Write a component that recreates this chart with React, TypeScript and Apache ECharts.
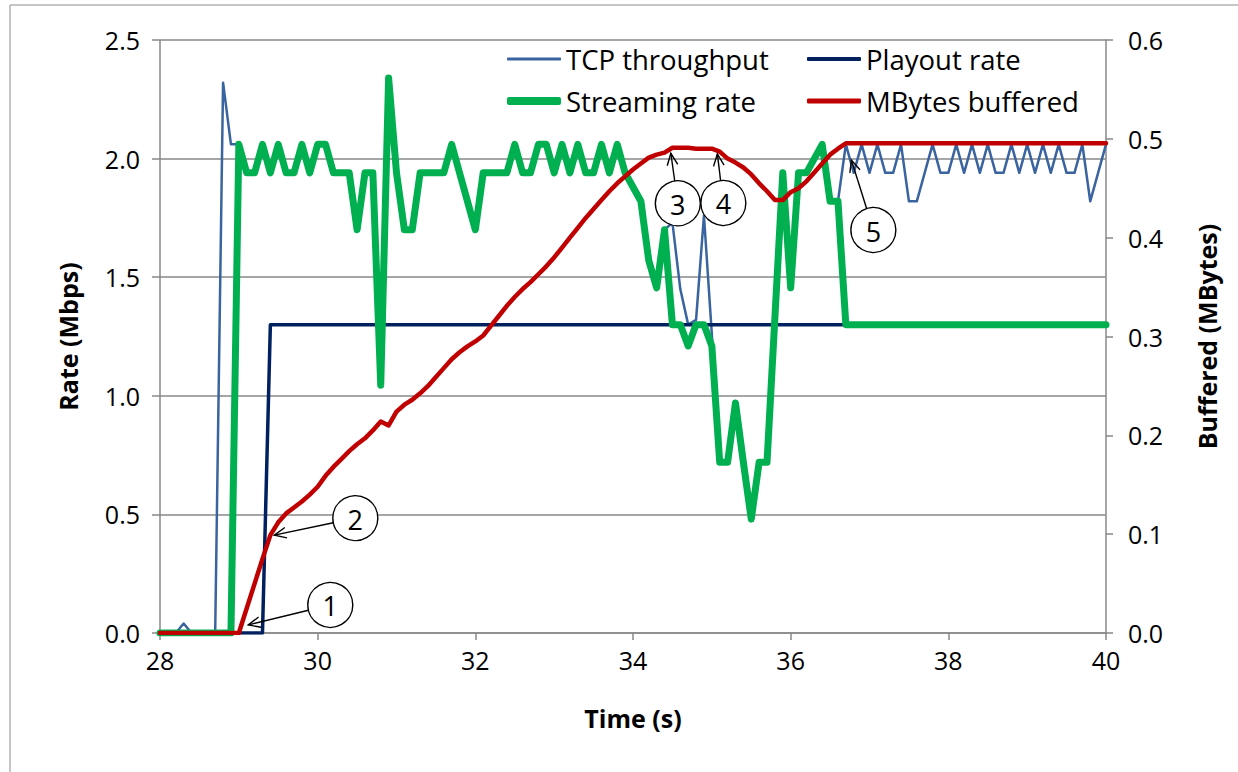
import React, { useEffect, useRef } from "react";
import * as echarts from "echarts";

// ---- data (time in s; rates in Mbps; buffer in MBytes) ----
const xTicks = { min: 28, max: 40, interval: 2 };
const rateAxis = { min: 0, max: 2.5, interval: 0.5 };
const bufferAxis = { min: 0, max: 0.6, interval: 0.1 };

const tcpThroughput: [number, number][] = [
  [28.0, 0], [28.2, 0], [28.3, 0.04], [28.4, 0], [28.7, 0], [28.8, 2.32], [28.9, 2.06],
  [29.0, 2.06], [29.1, 1.94], [29.2, 1.94], [29.3, 2.06], [29.4, 1.94], [29.5, 2.06], [29.6, 1.94], [29.7, 1.94], [29.8, 2.06], [29.9, 1.94],
  [30.0, 2.06], [30.1, 2.06], [30.2, 1.94], [30.3, 1.94], [30.4, 1.94], [30.5, 1.7], [30.6, 1.94], [30.7, 1.94], [30.8, 1.045], [30.9, 2.34],
  [31.0, 1.94], [31.1, 1.7], [31.2, 1.7], [31.3, 1.94], [31.4, 1.94], [31.5, 1.94], [31.6, 1.94], [31.7, 2.06], [31.8, 1.94], [31.9, 1.82],
  [32.0, 1.7], [32.1, 1.94], [32.2, 1.94], [32.3, 1.94], [32.4, 1.94], [32.5, 2.06], [32.6, 1.94], [32.7, 1.94], [32.8, 2.06], [32.9, 2.06],
  [33.0, 1.94], [33.1, 2.06], [33.2, 1.94], [33.3, 2.06], [33.4, 1.94], [33.5, 1.94], [33.6, 2.06], [33.7, 1.94], [33.8, 2.06], [33.9, 1.94],
  [34.0, 1.88], [34.1, 1.82], [34.2, 1.57], [34.3, 1.455], [34.4, 1.7], [34.5, 1.73], [34.6, 1.45], [34.7, 1.3], [34.8, 1.32], [34.9, 1.76],
  [35.0, 1.26], [35.1, 0.72], [35.2, 0.72], [35.3, 0.97], [35.4, 0.72], [35.5, 0.48], [35.6, 0.72], [35.7, 0.72], [35.8, 1.33], [35.9, 1.94],
  [36.0, 1.455], [36.1, 1.94], [36.2, 1.94], [36.3, 2.0], [36.4, 2.06], [36.5, 1.82], [36.6, 1.82], [36.7, 2.06], [36.8, 1.94], [36.9, 2.06],
  [37.0, 1.94], [37.1, 2.06], [37.2, 1.94], [37.3, 1.94], [37.4, 2.06], [37.5, 1.82], [37.6, 1.82], [37.7, 1.94], [37.8, 2.06], [37.9, 1.94],
  [38.0, 1.94], [38.1, 2.06], [38.2, 1.94], [38.3, 2.06], [38.4, 1.94], [38.5, 2.06], [38.6, 1.94], [38.7, 1.94], [38.8, 2.06], [38.9, 1.94],
  [39.0, 2.06], [39.1, 1.94], [39.2, 2.06], [39.3, 1.94], [39.4, 2.06], [39.5, 1.94], [39.6, 1.94], [39.7, 2.06], [39.8, 1.82], [39.9, 1.94],
  [40.0, 2.06],
];

const playoutRate: [number, number][] = [
  [28.0, 0], [29.3, 0], [29.4, 1.3], [40.0, 1.3],
];

const streamingRate: [number, number][] = [
  [28.0, 0], [28.9, 0],
  [29.0, 2.06], [29.1, 1.94], [29.2, 1.94], [29.3, 2.06], [29.4, 1.94], [29.5, 2.06], [29.6, 1.94], [29.7, 1.94], [29.8, 2.06], [29.9, 1.94],
  [30.0, 2.06], [30.1, 2.06], [30.2, 1.94], [30.3, 1.94], [30.4, 1.94], [30.5, 1.7], [30.6, 1.94], [30.7, 1.94], [30.8, 1.045], [30.9, 2.34],
  [31.0, 1.94], [31.1, 1.7], [31.2, 1.7], [31.3, 1.94], [31.4, 1.94], [31.5, 1.94], [31.6, 1.94], [31.7, 2.06], [31.8, 1.94], [31.9, 1.82],
  [32.0, 1.7], [32.1, 1.94], [32.2, 1.94], [32.3, 1.94], [32.4, 1.94], [32.5, 2.06], [32.6, 1.94], [32.7, 1.94], [32.8, 2.06], [32.9, 2.06],
  [33.0, 1.94], [33.1, 2.06], [33.2, 1.94], [33.3, 2.06], [33.4, 1.94], [33.5, 1.94], [33.6, 2.06], [33.7, 1.94], [33.8, 2.06], [33.9, 1.94],
  [34.0, 1.88], [34.1, 1.82], [34.2, 1.57], [34.3, 1.455], [34.4, 1.7], [34.5, 1.3], [34.6, 1.3], [34.7, 1.21], [34.8, 1.3], [34.9, 1.3],
  [35.0, 1.21], [35.1, 0.72], [35.2, 0.72], [35.3, 0.97], [35.4, 0.72], [35.5, 0.48], [35.6, 0.72], [35.7, 0.72], [35.8, 1.33], [35.9, 1.94],
  [36.0, 1.455], [36.1, 1.94], [36.2, 1.94], [36.3, 2.0], [36.4, 2.06], [36.5, 1.82], [36.6, 1.82], [36.7, 1.3], [40.0, 1.3],
];

const mbytesBuffered: [number, number][] = [
  [28.0, 0], [29.0, 0], [29.1, 0.025], [29.2, 0.05], [29.3, 0.075], [29.4, 0.099],
  [29.5, 0.112], [29.6, 0.121], [29.7, 0.127], [29.8, 0.133], [29.9, 0.14],
  [30.0, 0.148], [30.1, 0.159], [30.2, 0.168], [30.3, 0.176], [30.4, 0.184], [30.5, 0.191], [30.6, 0.197], [30.7, 0.205], [30.8, 0.214], [30.9, 0.21],
  [31.0, 0.224], [31.1, 0.231], [31.2, 0.236], [31.3, 0.2425], [31.4, 0.25], [31.5, 0.259], [31.6, 0.268], [31.7, 0.277], [31.8, 0.284], [31.9, 0.29],
  [32.0, 0.295], [32.1, 0.301], [32.2, 0.311], [32.3, 0.321], [32.4, 0.331], [32.5, 0.34], [32.6, 0.348], [32.7, 0.355], [32.8, 0.363], [32.9, 0.371],
  [33.0, 0.38], [33.1, 0.39], [33.2, 0.4], [33.3, 0.41], [33.4, 0.42], [33.5, 0.429], [33.6, 0.438], [33.7, 0.447], [33.8, 0.455], [33.9, 0.462],
  [34.0, 0.469], [34.1, 0.475], [34.2, 0.481], [34.3, 0.484], [34.4, 0.486], [34.5, 0.491], [34.6, 0.491], [34.7, 0.491], [34.8, 0.49], [34.9, 0.49],
  [35.0, 0.49], [35.1, 0.487], [35.2, 0.48], [35.3, 0.476], [35.4, 0.471], [35.5, 0.464], [35.6, 0.455], [35.7, 0.447], [35.8, 0.438], [35.9, 0.438],
  [36.0, 0.446], [36.1, 0.45], [36.2, 0.457], [36.3, 0.466], [36.4, 0.475], [36.5, 0.484], [36.6, 0.49], [36.7, 0.4955], [40.0, 0.4955],
];

// callouts: tip given in data coordinates (axis: 0 = rate, 1 = buffer), circle offset in px
const callouts = [
  { label: "1", tip: [29.12, 0.034], axis: 0, dx: 82, dy: -20 },
  { label: "2", tip: [29.45, 0.099], axis: 1, dx: 81, dy: -17 },
  { label: "3", tip: [34.48, 0.4854], axis: 1, dx: 7, dy: 50 },
  { label: "4", tip: [35.07, 0.4847], axis: 1, dx: 6, dy: 49 },
  { label: "5", tip: [36.77, 1.994], axis: 0, dx: 22, dy: 70 },
];

const FONT = "'Open Sans', 'Liberation Sans', sans-serif";
const GRID_COLOR = "#898989";

export default function App() {
  const ref = useRef<HTMLDivElement>(null);
  useEffect(() => {
    if (!ref.current) return;
    const chart = echarts.init(ref.current, undefined, { renderer: "svg" });
    const legendText = { fontFamily: FONT, fontSize: 27.5, color: "#000" };
    const axisLabel = { fontFamily: FONT, fontSize: 25, color: "#000" };
    const nameStyle = { fontFamily: FONT, fontSize: 25, fontWeight: "bold" as const, color: "#000" };
    const legendBase = { icon: "roundRect", itemWidth: 54, itemGap: 0, textStyle: legendText, selectedMode: false, padding: 0 };
    chart.setOption({
      animation: false,
      backgroundColor: "#fff",
      grid: { left: 160, right: 132, top: 40, bottom: 139, containLabel: false },
      legend: [
        { ...legendBase, data: ["TCP throughput"], left: 507, top: 45, itemHeight: 3 },
        { ...legendBase, data: ["Playout rate"], left: 807, top: 45, itemHeight: 4 },
        { ...legendBase, data: ["Streaming rate"], left: 507, top: 87, itemHeight: 8 },
        { ...legendBase, data: ["MBytes buffered"], left: 807, top: 87, itemHeight: 5 },
      ],
      xAxis: {
        type: "value",
        min: xTicks.min,
        max: xTicks.max,
        interval: xTicks.interval,
        name: "Time (s)",
        nameLocation: "middle",
        nameGap: 72,
        nameTextStyle: nameStyle,
        axisLine: { show: true, onZero: false, lineStyle: { color: GRID_COLOR, width: 1.5 } },
        axisTick: { show: true, inside: false, length: 7, lineStyle: { color: GRID_COLOR, width: 1.5 } },
        axisLabel: { ...axisLabel, margin: 14 },
        splitLine: { show: false },
      },
      yAxis: [
        {
          type: "value",
          min: rateAxis.min,
          max: rateAxis.max,
          interval: rateAxis.interval,
          name: "Rate (Mbps)",
          nameLocation: "middle",
          nameRotate: 90,
          nameGap: 80,
          nameTextStyle: nameStyle,
          axisLine: { show: true, lineStyle: { color: GRID_COLOR, width: 1.5 } },
          axisTick: { show: true, inside: false, length: 8, lineStyle: { color: GRID_COLOR, width: 1.5 } },
          axisLabel: { ...axisLabel, margin: 20, formatter: (v: number) => v.toFixed(1) },
          splitLine: { show: true, lineStyle: { color: GRID_COLOR, width: 1.5 } },
        },
        {
          type: "value",
          position: "right",
          min: bufferAxis.min,
          max: bufferAxis.max,
          interval: bufferAxis.interval,
          name: "Buffered (MBytes)",
          nameLocation: "middle",
          nameRotate: 90,
          nameGap: 88,
          nameTextStyle: nameStyle,
          axisLine: { show: true, lineStyle: { color: GRID_COLOR, width: 1.5 } },
          axisTick: { show: true, inside: false, length: 7, lineStyle: { color: GRID_COLOR, width: 1.5 } },
          axisLabel: { ...axisLabel, margin: 22, formatter: (v: number) => v.toFixed(1) },
          splitLine: { show: false },
        },
      ],
      series: [
        {
          name: "TCP throughput", type: "line", data: tcpThroughput, yAxisIndex: 0,
          symbol: "none", showSymbol: false, silent: true, z: 2,
          color: "#3A64A0", itemStyle: { color: "#3A64A0" },
          lineStyle: { color: "#3A64A0", width: 2.5, join: "round" },
        },
        {
          name: "Playout rate", type: "line", data: playoutRate, yAxisIndex: 0,
          symbol: "none", showSymbol: false, silent: true, z: 3,
          color: "#002060", itemStyle: { color: "#002060" },
          lineStyle: { color: "#002060", width: 3.5, join: "round" },
        },
        {
          name: "Streaming rate", type: "line", data: streamingRate, yAxisIndex: 0,
          symbol: "none", showSymbol: false, silent: true, z: 4,
          color: "#00B050", itemStyle: { color: "#00B050" },
          lineStyle: { color: "#00B050", width: 7, join: "round", cap: "round" },
        },
        {
          name: "MBytes buffered", type: "line", data: mbytesBuffered, yAxisIndex: 1,
          symbol: "none", showSymbol: false, silent: true, z: 5,
          color: "#C00000", itemStyle: { color: "#C00000" },
          lineStyle: { color: "#C00000", width: 4.5, join: "round", cap: "round" },
        },
      ],
    });

    // callout circles and arrows placed from data coordinates
    const graphics: any[] = [
      {
        type: "rect", silent: true, z: 0,
        shape: { x: 10, y: 5, width: 1250, height: 790 },
        style: { fill: "none", stroke: "#8c8c8c", lineWidth: 1 },
      },
    ];
    const r = 22.5;
    callouts.forEach((c) => {
      const tip = chart.convertToPixel({ xAxisIndex: 0, yAxisIndex: c.axis }, c.tip) as number[];
      const cx = tip[0] + c.dx;
      const cy = tip[1] + c.dy;
      const vx = tip[0] - cx, vy = tip[1] - cy;
      const len = Math.hypot(vx, vy);
      const ux = vx / len, uy = vy / len;
      const sx = cx + ux * r, sy = cy + uy * r;
      const head = 13, ang = 0.42;
      const wing = (a: number) => [
        tip[0] - head * (ux * Math.cos(a) - uy * Math.sin(a)),
        tip[1] - head * (ux * Math.sin(a) + uy * Math.cos(a)),
      ];
      const w1 = wing(ang), w2 = wing(-ang);
      const ls = { stroke: "#000", lineWidth: 1.4 };
      graphics.push(
        { type: "line", z: 100, silent: true, shape: { x1: sx, y1: sy, x2: tip[0], y2: tip[1] }, style: ls },
        { type: "polyline", z: 100, silent: true, shape: { points: [w1, tip, w2] }, style: { ...ls, fill: "none" } },
        { type: "circle", z: 101, silent: true, shape: { cx, cy, r }, style: { fill: "#fff", stroke: "#000", lineWidth: 1.4 } },
        {
          type: "text", z: 102, silent: true, x: cx, y: cy + 1,
          style: { text: c.label, fontFamily: FONT, fontSize: 27, fill: "#000", align: "center", verticalAlign: "middle" },
        }
      );
    });
    chart.setOption({ graphic: graphics });

    return () => chart.dispose();
  }, []);
  return (
    <div
      ref={ref}
      style={{ position: "fixed", left: 0, top: 0, width: 1238, height: 772, background: "#fff" }}
    />
  );
}
